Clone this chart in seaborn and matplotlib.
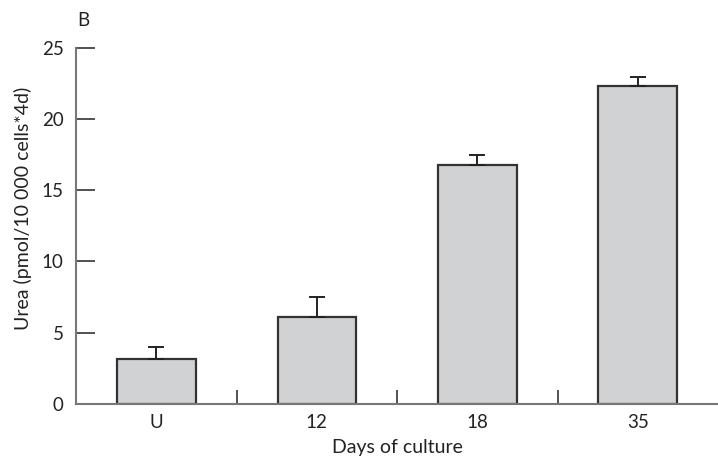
import numpy as np
import pandas as pd
import matplotlib
matplotlib.use("Agg")
import matplotlib.pyplot as plt
import seaborn as sns

days = ["U", "12", "18", "35"]
urea = [3.15, 6.1, 16.8, 22.3]
urea_err = [0.85, 1.4, 0.7, 0.65]

df = pd.DataFrame({"day": days, "urea": urea})

sns.set_style("white")
plt.rcParams["font.family"] = ["Lato", "DejaVu Sans"]
plt.rcParams["text.color"] = "#222222"
plt.rcParams["axes.labelcolor"] = "#222222"
plt.rcParams["xtick.color"] = "#222222"
plt.rcParams["ytick.color"] = "#222222"

fig = plt.figure(figsize=(7.18, 4.59), dpi=100)
ax = fig.add_axes([0.106, 0.12, 0.894, 0.776])

sns.barplot(data=df, x="day", y="urea", color="#d1d2d4", edgecolor="#333333",
            linewidth=1.6, width=0.49, saturation=1, errorbar=None, ax=ax)
ax.errorbar(np.arange(len(days)), urea, yerr=[np.zeros(len(days)), urea_err],
            fmt="none", ecolor="#222222", elinewidth=1.4, capsize=6, capthick=1.4)

ax.set_xlim(-0.5, 3.5)
ax.set_ylim(0, 25)
ax.set_yticks([0, 5, 10, 15, 20, 25])
ax.tick_params(axis="y", left=True, direction="in", length=14, width=1.2,
               color="#333333", labelsize=13.5, pad=9)
ax.tick_params(axis="x", which="major", bottom=True, length=0, labelsize=13.5, pad=7)
ax.set_xticks([0.5, 1.5, 2.5], minor=True)
ax.tick_params(axis="x", which="minor", bottom=True, direction="in", length=10,
               width=1.2, color="#333333")

for s in ["top", "right"]:
    ax.spines[s].set_visible(False)
for s in ["left", "bottom"]:
    ax.spines[s].set_color("#777777")
    ax.spines[s].set_linewidth(1.5)

ax.set_xlabel("Days of culture", fontsize=14)
ax.set_ylabel("Urea (pmol/10 000 cells*4d)", fontsize=14)
ax.xaxis.set_label_coords(0.5, -0.098)
ax.yaxis.set_label_coords(-0.069, 0.55)
fig.text(0.107, 0.955, "B", fontsize=13.5, ha="left", va="center")

fig.savefig("out.png", dpi=100)
